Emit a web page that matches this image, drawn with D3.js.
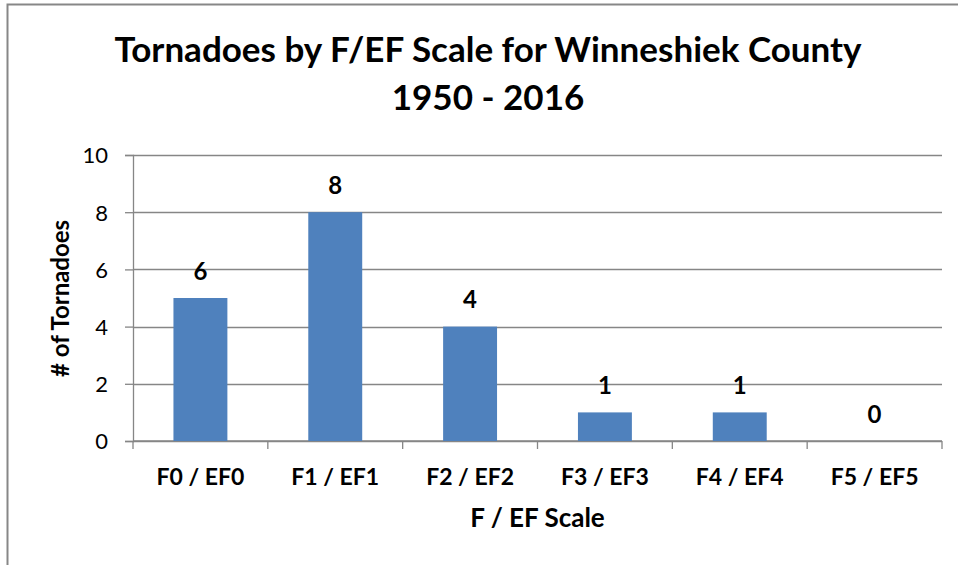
<!DOCTYPE html>
<html>
<head>
<meta charset="utf-8">
<script src="https://cdn.jsdelivr.net/npm/d3@7"></script>
<style>
  body { margin: 0; background: #fff; }
  text { font-family: Lato, "Open Sans", sans-serif; fill: #000; }
</style>
</head>
<body>
<svg id="chart" width="958" height="565"></svg>
<script>
// chart values
const categories = ['F0 / EF0', 'F1 / EF1', 'F2 / EF2', 'F3 / EF3', 'F4 / EF4', 'F5 / EF5'];
const barValues = [5, 8, 4, 1, 1, 0];
const labelValues = [6, 8, 4, 1, 1, 0];
const yTicks = [0, 2, 4, 6, 8, 10];
const titleLines = ['Tornadoes by F/EF Scale for Winneshiek County', '1950 - 2016'];

const svg = d3.select('#chart');
const margin = { left: 133, right: 16, top: 155, bottom: 124 };
const width = 958 - margin.left - margin.right;
const height = 565 - margin.top - margin.bottom;

// outer frame (only top and left edges visible in the crop)
svg.append('path')
   .attr('d', 'M7.5,565 V4.5 H958')
   .attr('fill', 'none')
   .attr('stroke', '#878787')
   .attr('stroke-width', 2);

svg.selectAll('.title')
   .data(titleLines)
   .enter()
   .append('text')
   .attr('x', 488)
   .attr('y', (d, i) => 62 + i * 48)
   .attr('text-anchor', 'middle')
   .style('font-size', '35px')
   .style('font-weight', 'bold')
   .text(d => d);

const g = svg.append('g')
             .attr('transform', 'translate(' + margin.left + ',' + margin.top + ')');

const x = d3.scaleBand()
            .domain(categories)
            .range([0, width])
            .paddingInner(0.6)
            .paddingOuter(0.3);

const y = d3.scaleLinear()
            .domain([0, 10])
            .range([height, 0]);

// gridlines
g.selectAll('.grid')
 .data(yTicks)
 .enter()
 .append('line')
 .attr('x1', 0)
 .attr('x2', width)
 .attr('y1', d => Math.round(y(d)) + 0.5)
 .attr('y2', d => Math.round(y(d)) + 0.5)
 .attr('stroke', '#868686')
 .attr('stroke-width', 1.3);

// y axis
const yAxis = d3.axisLeft(y).tickValues(yTicks).tickSize(8).tickPadding(17);
const yg = g.append('g').call(yAxis);
yg.select('.domain').attr('stroke', '#868686').attr('stroke-width', 1.3);
yg.selectAll('.tick line').attr('stroke', '#868686').attr('stroke-width', 1.3);
yg.selectAll('.tick text')
  .attr('dy', '0.36em')
  .style('font-size', '22px')
  .style('font-family', 'Lato, sans-serif')
  .attr('fill', '#000');

// x axis with category boundary ticks
const xg = g.append('g').attr('transform', 'translate(0,' + height + ')');
xg.append('line')
  .attr('x1', 0).attr('x2', width)
  .attr('stroke', '#868686').attr('stroke-width', 1.3);
const boundaries = d3.range(categories.length + 1).map(i => i * width / categories.length);
xg.selectAll('.btick')
  .data(boundaries)
  .enter()
  .append('line')
  .attr('x1', d => d).attr('x2', d => d)
  .attr('y1', 0).attr('y2', 8)
  .attr('stroke', '#868686').attr('stroke-width', 1.3);
xg.selectAll('.xlabel')
  .data(categories)
  .enter()
  .append('text')
  .attr('x', d => x(d) + x.bandwidth() / 2)
  .attr('y', 35.5)
  .attr('dy', '0.36em')
  .attr('text-anchor', 'middle')
  .style('font-size', '23px')
  .style('font-weight', 'bold')
  .text(d => d);

// bars
g.selectAll('.bar')
 .data(categories)
 .enter()
 .append('rect')
 .attr('x', d => x(d))
 .attr('y', (d, i) => y(barValues[i]))
 .attr('width', x.bandwidth())
 .attr('height', (d, i) => height - y(barValues[i]))
 .attr('fill', '#4F81BD');

// data labels
g.selectAll('.dlabel')
 .data(categories)
 .enter()
 .append('text')
 .attr('x', d => x(d) + x.bandwidth() / 2)
 .attr('y', (d, i) => y(barValues[i]) - 27)
 .attr('dy', '0.36em')
 .attr('text-anchor', 'middle')
 .style('font-size', '24px')
 .style('font-weight', 'bold')
 .text((d, i) => labelValues[i]);

// axis titles
g.append('text')
 .attr('x', width / 2)
 .attr('y', height + 77)
 .attr('dy', '0.36em')
 .attr('text-anchor', 'middle')
 .style('font-size', '26px')
 .style('font-weight', 'bold')
 .text('F / EF Scale');

g.append('text')
 .attr('transform', 'translate(' + (60 - margin.left) + ',' + (298.5 - margin.top) + ') rotate(-90)')
 .attr('dy', '0.36em')
 .attr('text-anchor', 'middle')
 .style('font-size', '24px')
 .style('font-weight', 'bold')
 .text('# of Tornadoes');
</script>
</body>
</html>
